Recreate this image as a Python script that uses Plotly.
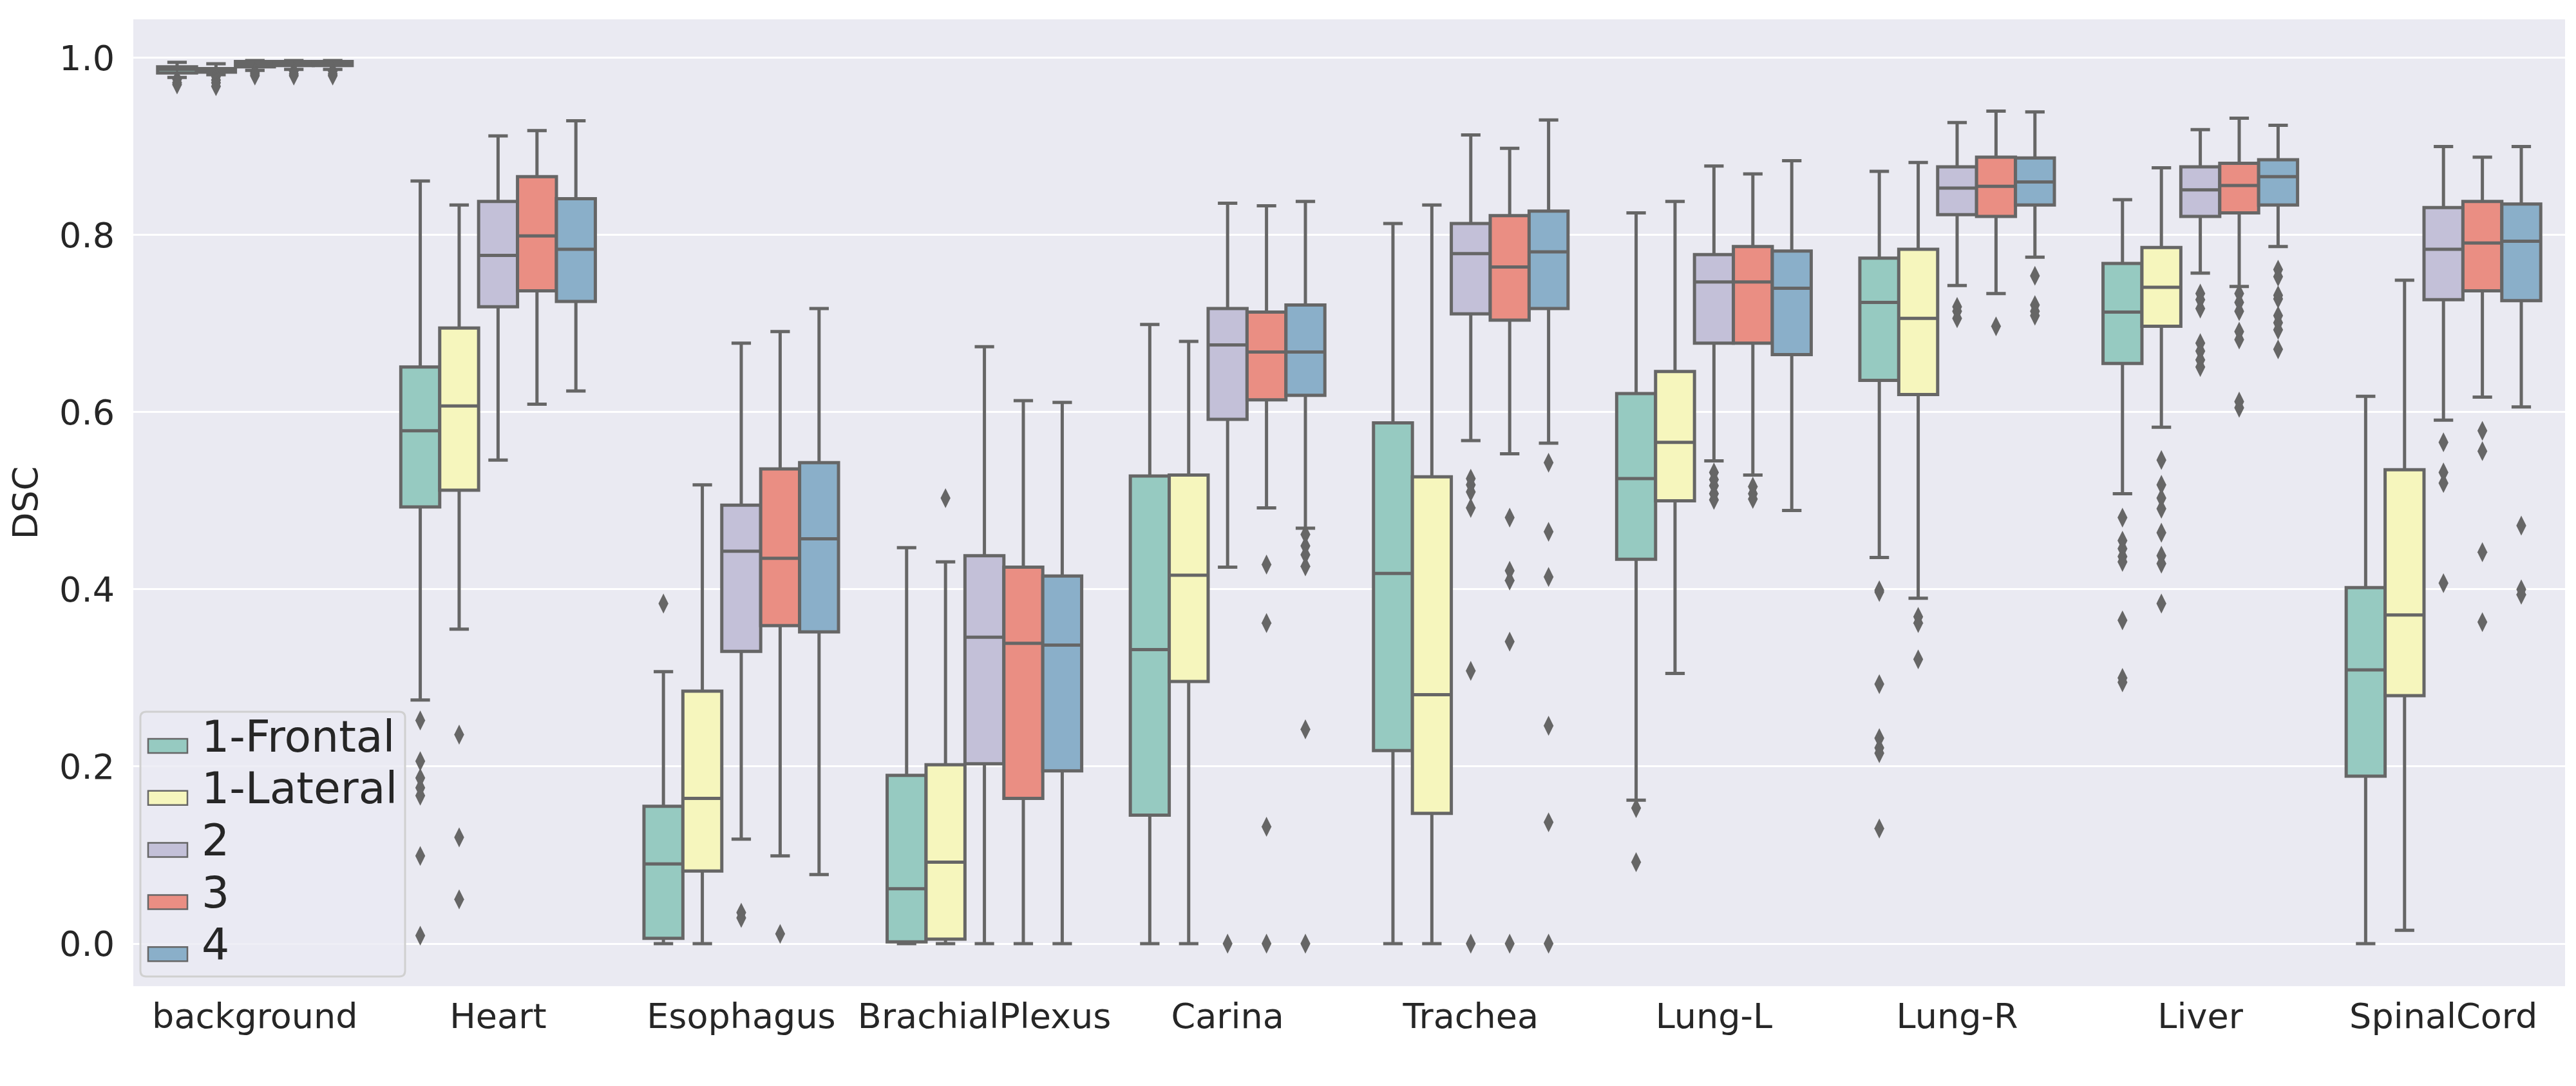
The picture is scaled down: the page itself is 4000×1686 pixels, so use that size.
import plotly.graph_objects as go

categories = ["background", "Heart", "Esophagus", "BrachialPlexus", "Carina",
              "Trachea", "Lung-L", "Lung-R", "Liver", "SpinalCord"]
hues = ["1-Frontal", "1-Lateral", "2", "3", "4"]

# ---- box statistics per hue (one value per category) ----
frontal_low = [0.978, 0.275, 0.0, 0.0, 0.0, 0.0, 0.162, 0.436, 0.508, 0.0]
frontal_q1 = [0.983, 0.493, 0.006, 0.002, 0.145, 0.218, 0.434, 0.636, 0.655, 0.189]
frontal_med = [0.987, 0.579, 0.090, 0.062, 0.332, 0.418, 0.525, 0.724, 0.713, 0.309]
frontal_q3 = [0.990, 0.651, 0.155, 0.190, 0.528, 0.588, 0.621, 0.774, 0.768, 0.402]
frontal_high = [0.995, 0.861, 0.307, 0.447, 0.699, 0.813, 0.825, 0.872, 0.840, 0.618]

lateral_low = [0.981, 0.355, 0.0, 0.0, 0.0, 0.0, 0.305, 0.390, 0.583, 0.015]
lateral_q1 = [0.984, 0.512, 0.082, 0.005, 0.296, 0.147, 0.500, 0.620, 0.697, 0.280]
lateral_med = [0.986, 0.607, 0.164, 0.092, 0.416, 0.281, 0.566, 0.706, 0.741, 0.371]
lateral_q3 = [0.988, 0.695, 0.285, 0.202, 0.529, 0.527, 0.646, 0.784, 0.786, 0.535]
lateral_high = [0.9935, 0.834, 0.518, 0.431, 0.680, 0.834, 0.838, 0.882, 0.876, 0.749]

m2_low = [0.986, 0.546, 0.118, 0.0, 0.425, 0.568, 0.545, 0.743, 0.757, 0.591]
m2_q1 = [0.990, 0.719, 0.330, 0.203, 0.592, 0.711, 0.678, 0.823, 0.821, 0.727]
m2_med = [0.993, 0.777, 0.443, 0.346, 0.676, 0.779, 0.747, 0.853, 0.851, 0.784]
m2_q3 = [0.996, 0.838, 0.495, 0.438, 0.717, 0.813, 0.778, 0.877, 0.877, 0.831]
m2_high = [0.997, 0.912, 0.678, 0.674, 0.836, 0.913, 0.878, 0.927, 0.919, 0.900]

m3_low = [0.987, 0.609, 0.099, 0.0, 0.492, 0.553, 0.529, 0.734, 0.742, 0.617]
m3_q1 = [0.9915, 0.737, 0.359, 0.164, 0.614, 0.704, 0.678, 0.821, 0.825, 0.737]
m3_med = [0.994, 0.799, 0.435, 0.339, 0.668, 0.764, 0.747, 0.855, 0.856, 0.791]
m3_q3 = [0.996, 0.866, 0.536, 0.425, 0.713, 0.822, 0.787, 0.888, 0.881, 0.838]
m3_high = [0.997, 0.918, 0.691, 0.613, 0.833, 0.898, 0.869, 0.940, 0.932, 0.888]

m4_low = [0.987, 0.624, 0.078, 0.0, 0.469, 0.565, 0.489, 0.775, 0.787, 0.606]
m4_q1 = [0.9915, 0.725, 0.352, 0.195, 0.619, 0.717, 0.665, 0.834, 0.834, 0.726]
m4_med = [0.994, 0.784, 0.457, 0.337, 0.668, 0.781, 0.740, 0.860, 0.866, 0.793]
m4_q3 = [0.996, 0.841, 0.543, 0.415, 0.721, 0.827, 0.782, 0.887, 0.885, 0.835]
m4_high = [0.997, 0.929, 0.717, 0.611, 0.838, 0.930, 0.884, 0.939, 0.924, 0.900]

# ---- outliers per hue (one list per category) ----
frontal_out = [[0.976, 0.972, 0.970], [0.252, 0.206, 0.187, 0.176, 0.167, 0.099, 0.009],
               [0.384], [], [], [], [0.153, 0.092],
               [0.399, 0.397, 0.293, 0.232, 0.221, 0.215, 0.130],
               [0.481, 0.455, 0.446, 0.437, 0.431, 0.365, 0.300, 0.295], []]
lateral_out = [[0.979, 0.975, 0.972, 0.968], [0.236, 0.120, 0.050], [], [0.503], [], [], [],
               [0.369, 0.362, 0.321],
               [0.546, 0.518, 0.503, 0.491, 0.464, 0.438, 0.429, 0.384], []]
m2_out = [[0.984, 0.982, 0.980], [], [0.035, 0.029], [], [0.0],
          [0.525, 0.518, 0.510, 0.492, 0.308, 0.0],
          [0.532, 0.524, 0.517, 0.508, 0.501], [0.719, 0.714, 0.706],
          [0.734, 0.727, 0.717, 0.678, 0.669, 0.659, 0.651],
          [0.566, 0.532, 0.520, 0.407]]
m3_out = [[0.985, 0.982, 0.980], [], [0.011], [], [0.428, 0.362, 0.132, 0.0],
          [0.481, 0.421, 0.410, 0.341, 0.0], [0.516, 0.508, 0.502], [0.697],
          [0.734, 0.724, 0.714, 0.691, 0.682, 0.612, 0.605],
          [0.579, 0.556, 0.442, 0.363]]
m4_out = [[0.985, 0.982, 0.980], [], [], [], [0.462, 0.449, 0.439, 0.426, 0.242, 0.0],
          [0.543, 0.465, 0.414, 0.246, 0.137, 0.0], [],
          [0.754, 0.721, 0.714, 0.709],
          [0.761, 0.753, 0.732, 0.728, 0.709, 0.701, 0.693, 0.671],
          [0.472, 0.400, 0.394]]

colors = ["#96CAC1", "#F6F6BD", "#C3C0D8", "#EA8E83", "#8AAFC9"]
line_gray = "#666666"

stats = [
    (frontal_low, frontal_q1, frontal_med, frontal_q3, frontal_high, frontal_out),
    (lateral_low, lateral_q1, lateral_med, lateral_q3, lateral_high, lateral_out),
    (m2_low, m2_q1, m2_med, m2_q3, m2_high, m2_out),
    (m3_low, m3_q1, m3_med, m3_q3, m3_high, m3_out),
    (m4_low, m4_q1, m4_med, m4_q3, m4_high, m4_out),
]

W, H = 4000, 1686
ML, MR, MT, MB = 199, 25, 22, 163
PW, PH = W - ML - MR, H - MT - MB

group_width = 0.8
bw = group_width / len(hues)

fig = go.Figure()
for j, (name, col, st) in enumerate(zip(hues, colors, stats)):
    low, q1, med, q3, high, outs = st
    off = -group_width / 2 + bw * (j + 0.5)
    xs = [i + off for i in range(len(categories))]
    fig.add_trace(go.Box(
        name=name, x=xs, q1=q1, median=med, q3=q3,
        lowerfence=low, upperfence=high,
        width=bw, fillcolor=col, boxpoints=False,
        line=dict(color=line_gray, width=5), whiskerwidth=0.5,
        showlegend=False, hoverinfo="skip",
    ))
    ox, oy = [], []
    for i, vals in enumerate(outs):
        for v in vals:
            ox.append(i + off)
            oy.append(v)
    fig.add_trace(go.Scatter(
        x=ox, y=oy, mode="markers", showlegend=False, hoverinfo="skip",
        marker=dict(symbol="diamond-tall", size=22, color=line_gray, line=dict(width=0)),
    ))

# ---- legend drawn in paper coordinates (matplotlib style) ----
def px(x):
    return (x - ML) / PW

def py(y):
    return (H - MB - y) / PH

shapes = []
annotations = []
lx0, lx1, ly0, ly1 = 210, 621, 1097, 1508
r = 9
rx, ry = r / PW, r / PH
X0, X1, Yt, Yb = px(lx0), px(lx1), py(ly0), py(ly1)
path = (f"M {X0+rx},{Yb} L {X1-rx},{Yb} Q {X1},{Yb} {X1},{Yb+ry} "
        f"L {X1},{Yt-ry} Q {X1},{Yt} {X1-rx},{Yt} L {X0+rx},{Yt} Q {X0},{Yt} {X0},{Yt-ry} "
        f"L {X0},{Yb+ry} Q {X0},{Yb} {X0+rx},{Yb} Z")
shapes.append(dict(type="path", xref="paper", yref="paper", path=path,
                   fillcolor="rgba(234,234,242,0.8)", line=dict(color="#D0D0D0", width=3)))
for k, (name, col) in enumerate(zip(hues, colors)):
    cy = 1150 + k * 80.8
    shapes.append(dict(type="rect", xref="paper", yref="paper",
                       x0=px(222), x1=px(283), y0=py(cy - 11), y1=py(cy + 11),
                       fillcolor=col, line=dict(color=line_gray, width=2.5)))
    annotations.append(dict(xref="paper", yref="paper", x=px(303), y=py(cy - 15),
                            xanchor="left", yanchor="middle", text=name, showarrow=False,
                            font=dict(size=68, color="#262626", family="DejaVu Sans")))

fig.update_layout(
    width=W, height=H,
    margin=dict(l=ML, r=MR, t=MT, b=MB),
    paper_bgcolor="white", plot_bgcolor="#EAEAF2",
    font=dict(family="DejaVu Sans", color="#262626", size=54),
    boxmode="overlay", showlegend=False,
    shapes=shapes, annotations=annotations,
)
fig.update_xaxes(
    range=[-0.5, len(categories) - 0.5],
    tickvals=list(range(len(categories))), ticktext=categories,
    showgrid=False, zeroline=False, showline=False, ticks="",
    tickfont=dict(size=54), ticklabelstandoff=10,
)
fig.update_yaxes(
    range=[-0.048, 1.0436],
    tickvals=[0, 0.2, 0.4, 0.6, 0.8, 1.0], ticktext=["0.0", "0.2", "0.4", "0.6", "0.8", "1.0"],
    showgrid=True, gridcolor="white", gridwidth=3, zeroline=False, showline=False, ticks="",
    tickfont=dict(size=54), ticklabelstandoff=28,
    title=dict(text="DSC", font=dict(size=54), standoff=22),
)

fig.write_html("out.html")
